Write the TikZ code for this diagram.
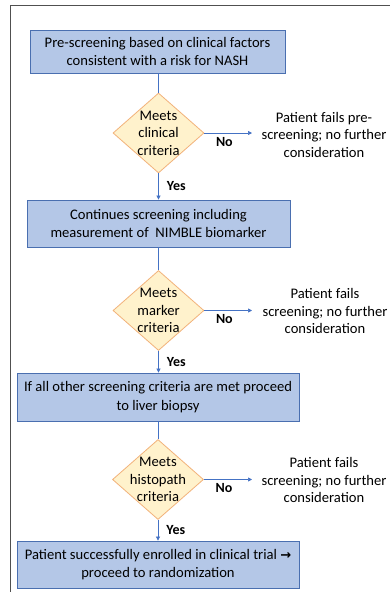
\documentclass[tikz,border=0pt]{standalone}
\usepackage{fontspec}
\setmainfont{Carlito}
\newfontfamily\symfont{DejaVu Sans}
\usetikzlibrary{shapes.geometric,arrows.meta}
\definecolor{boxfill}{HTML}{B4C7E7}
\definecolor{boxline}{HTML}{4A6FB0}
\definecolor{diafill}{HTML}{FFF2CC}
\definecolor{dialine}{HTML}{F2B27A}
\definecolor{conn}{HTML}{4472C4}
\definecolor{frame}{HTML}{505050}
\begin{document}
\begin{tikzpicture}[x=1pt,y=-1pt,
  font=\fontsize{14.6}{18.5}\selectfont,
  stepbox/.style={draw=boxline, fill=boxfill, line width=0.8pt, inner sep=0pt, align=center},
  dia/.style={draw=dialine, fill=diafill, line width=0.8pt, shape=diamond, inner sep=0pt, minimum width=91pt, minimum height=80pt},
  dtext/.style={align=center, inner sep=0pt, font=\fontsize{14.6}{17.5}\selectfont},
  failtext/.style={align=center, inner sep=0pt, font=\fontsize{14.6}{17.5}\selectfont},
  conn/.style={draw=conn, line width=0.7pt},
  arr/.style={conn, -{Triangle[length=4pt,width=4pt]}},
  lab/.style={font=\bfseries\fontsize{14}{16}\selectfont, inner sep=0pt}
]
\useasboundingbox (0,0) rectangle (390,592);
\fill[white] (0,0) rectangle (390,592);
\draw[frame, line width=1pt] (390,5) -- (10,5) -- (10,592);

% boxes
\node[stepbox, minimum width=255pt, minimum height=43pt] (b1) at (157.5,51.5) {Pre-screening based on clinical factors\\consistent with a risk for NASH};
\node[stepbox, minimum width=263pt, minimum height=47pt] (b2) at (158.5,223.5) {Continues screening including\\measurement of\ \ NIMBLE biomarker};
\node[stepbox, minimum width=282pt, minimum height=48pt] (b3) at (158,397) {If all other screening criteria are met proceed\\to liver biopsy};
\node[stepbox, minimum width=282pt, minimum height=47pt] (b4) at (158,564.5) {Patient successfully enrolled in clinical trial {\symfont\bfseries\fontsize{13}{16}\selectfont →}\\proceed to randomization};

% diamonds
\node[dia] (d1) at (158.5,133) {};
\node[dtext] (t1) at (d1) {Meets\\clinical\\criteria};
\node[dia] (d2) at (158.5,310.5) {};
\node[dtext] (t2) at (d2) {Meets\\marker\\criteria};
\node[dia] (d3) at (158,479.5) {};
\node[dtext] (t3) at (d3) {Meets\\histopath\\criteria};

% fail texts
\node[failtext] (f1) at (324,134.5) {Patient fails pre-\\screening; no further\\consideration};
\node[failtext] (f2) at (325,311) {Patient fails\\screening; no further\\consideration};
\node[failtext] (f3) at (324,480) {Patient fails\\screening; no further\\consideration};
\coordinate (e1) at (252,133);
\coordinate (e2) at (252,310.5);
\coordinate (e3) at (252,479.5);

% connectors
\draw[conn] (b1.south -| d1.north) -- (d1.north);
\draw[arr] (d1.south) -- (d1.south |- b2.north) node[lab, pos=0.5, right=8pt] (y1) {Yes};
\draw[conn] (b2.south -| d2.north) -- (d2.north);
\draw[arr] (d2.south) -- (d2.south |- b3.north) node[lab, pos=0.5, right=8pt] (y2) {Yes};
\draw[conn] (b3.south -| d3.north) -- (d3.north);
\draw[arr] (d3.south) -- (d3.south |- b4.north) node[lab, pos=0.5, right=8pt] (y3) {Yes};

\draw[arr] (d1.east) -- (e1) node[lab, pos=0.42, below=4pt] (n1) {No};
\draw[arr] (d2.east) -- (e2) node[lab, pos=0.42, below=4pt] (n2) {No};
\draw[arr] (d3.east) -- (e3) node[lab, pos=0.42, below=4pt] (n3) {No};
\end{tikzpicture}
\end{document}
